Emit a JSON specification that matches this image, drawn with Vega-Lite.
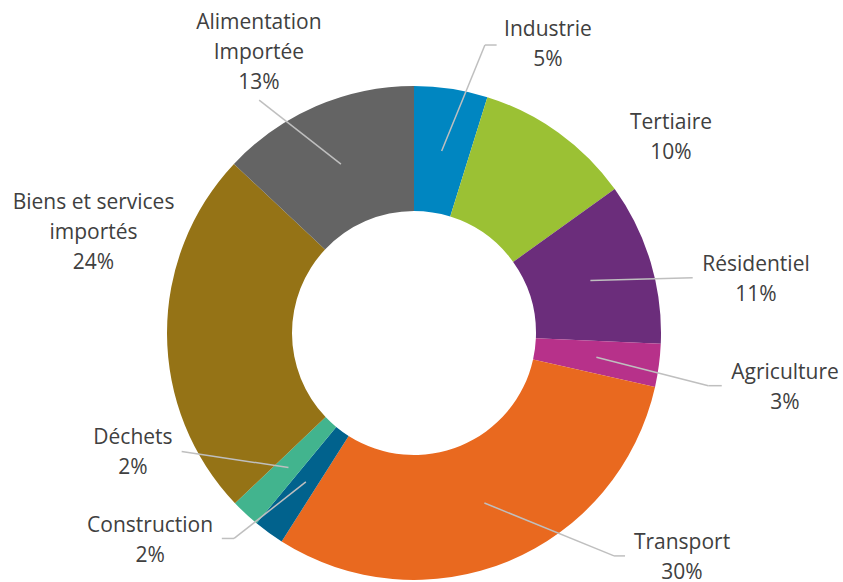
{
  "$schema": "https://vega.github.io/schema/vega-lite/v6.json",
  "width": 828,
  "height": 498,
  "autosize": {"type": "none"},
  "padding": {"left": 0, "top": 84, "right": 15, "bottom": 0},
  "background": "white",
  "config": {"view": {"stroke": null}},
  "params": [
    {
      "name": "lab",
      "value": {
        "Industrie": {"o": 16.3, "r": 317.6, "ex": -63, "ey": 0, "t": 11.7, "lead": true},
        "Tertiaire": {"o": 17.0, "r": 322.6, "ex": 0, "ey": 0, "t": 0, "lead": false},
        "Résidentiel": {"o": 7.75, "r": 346.1, "ex": -63.3, "ey": -2.3, "t": 0, "lead": true},
        "Agriculture": {"o": 0.87, "r": 375.1, "ex": -76.7, "ey": -2.3, "t": 13.4, "lead": true},
        "Transport": {"o": -27.5, "r": 349.9, "ex": -68, "ey": -2, "t": 11, "lead": true},
        "Construction": {"o": 15.8, "r": 335.8, "ex": 84, "ey": -2.2, "t": -12.3, "lead": true},
        "Déchets": {"o": 23.9, "r": 305.5, "ex": 48.7, "ey": -1.3, "t": 0, "lead": true},
        "Biens et services importés": {"o": 17.5, "r": 335.7, "ex": 0, "ey": 0, "t": 0, "lead": false},
        "Alimentation Importée": {"o": -5.6, "r": 320.0, "ex": 0.3, "ey": 47, "t": 0, "lead": true}
      }
    }
  ],
  "data": {
    "values": [
      {"order": 1, "category": "Industrie", "value": 4.8, "label": "Industrie\n5%"},
      {"order": 2, "category": "Tertiaire", "value": 10.3, "label": "Tertiaire\n10%"},
      {"order": 3, "category": "Résidentiel", "value": 10.6, "label": "Résidentiel\n11%"},
      {"order": 4, "category": "Agriculture", "value": 2.8, "label": "Agriculture\n3%"},
      {"order": 5, "category": "Transport", "value": 30.5, "label": "Transport\n30%"},
      {"order": 6, "category": "Construction", "value": 2.0, "label": "Construction\n2%"},
      {"order": 7, "category": "Déchets", "value": 1.9, "label": "Déchets\n2%"},
      {"order": 8, "category": "Biens et services importés", "value": 24.1, "label": "Biens et services\nimportés\n24%"},
      {"order": 9, "category": "Alimentation Importée", "value": 13.0, "label": "Alimentation\nImportée\n13%"}
    ]
  },
  "layer": [
    {
      "mark": {"type": "arc", "innerRadius": 122, "outerRadius": 247},
      "encoding": {
        "theta": {"field": "value", "type": "quantitative", "stack": true},
        "order": {"field": "order", "type": "quantitative"},
        "color": {
          "field": "category",
          "type": "nominal",
          "scale": {
            "domain": ["Industrie", "Tertiaire", "Résidentiel", "Agriculture", "Transport", "Construction", "Déchets", "Biens et services importés", "Alimentation Importée"],
            "range": ["#0086C1", "#9BC134", "#6B2D7B", "#B7318A", "#E9691F", "#01628D", "#42B48E", "#957316", "#646464"]
          },
          "legend": null
        }
      }
    },
    {
      "transform": [
        {"stack": "value", "groupby": [], "sort": [{"field": "order", "order": "ascending"}], "as": ["v0", "v1"]},
        {"filter": "lab[datum.category].lead"}
      ],
      "mark": {"type": "rule", "color": "#BFBFBF", "strokeWidth": 1.5},
      "encoding": {
        "x": {"value": {"expr": "width/2+184*sin(scale('theta',(datum.v0+datum.v1)/2))"}},
        "y": {"value": {"expr": "height/2-184*cos(scale('theta',(datum.v0+datum.v1)/2))"}},
        "x2": {"value": {"expr": "width/2+lab[datum.category].r*sin(scale('theta',(datum.v0+datum.v1)/2)+lab[datum.category].o*PI/180)+lab[datum.category].ex"}},
        "y2": {"value": {"expr": "height/2-lab[datum.category].r*cos(scale('theta',(datum.v0+datum.v1)/2)+lab[datum.category].o*PI/180)+lab[datum.category].ey"}}
      }
    },
    {
      "transform": [
        {"stack": "value", "groupby": [], "sort": [{"field": "order", "order": "ascending"}], "as": ["v0", "v1"]},
        {"filter": "lab[datum.category].t != 0"}
      ],
      "mark": {"type": "rule", "color": "#BFBFBF", "strokeWidth": 1.5},
      "encoding": {
        "x": {"value": {"expr": "width/2+lab[datum.category].r*sin(scale('theta',(datum.v0+datum.v1)/2)+lab[datum.category].o*PI/180)+lab[datum.category].ex"}},
        "x2": {"value": {"expr": "width/2+lab[datum.category].r*sin(scale('theta',(datum.v0+datum.v1)/2)+lab[datum.category].o*PI/180)+lab[datum.category].ex+lab[datum.category].t"}},
        "y": {"value": {"expr": "height/2-lab[datum.category].r*cos(scale('theta',(datum.v0+datum.v1)/2)+lab[datum.category].o*PI/180)+lab[datum.category].ey"}},
        "y2": {"value": {"expr": "height/2-lab[datum.category].r*cos(scale('theta',(datum.v0+datum.v1)/2)+lab[datum.category].o*PI/180)+lab[datum.category].ey"}}
      }
    },
    {
      "mark": {
        "type": "text",
        "font": "Open Sans",
        "fontSize": 21,
        "lineHeight": 30,
        "lineBreak": "\n",
        "color": "#404040",
        "radius": {"expr": "lab[datum.category].r"},
        "thetaOffset": {"expr": "lab[datum.category].o*PI/180"},
        "dy": {"expr": "-(length(split(datum.label, '\\n'))-1)*15"}
      },
      "encoding": {
        "theta": {"field": "value", "type": "quantitative", "stack": true},
        "order": {"field": "order", "type": "quantitative"},
        "detail": {"field": "category"},
        "text": {"field": "label", "type": "nominal"}
      }
    }
  ]
}
